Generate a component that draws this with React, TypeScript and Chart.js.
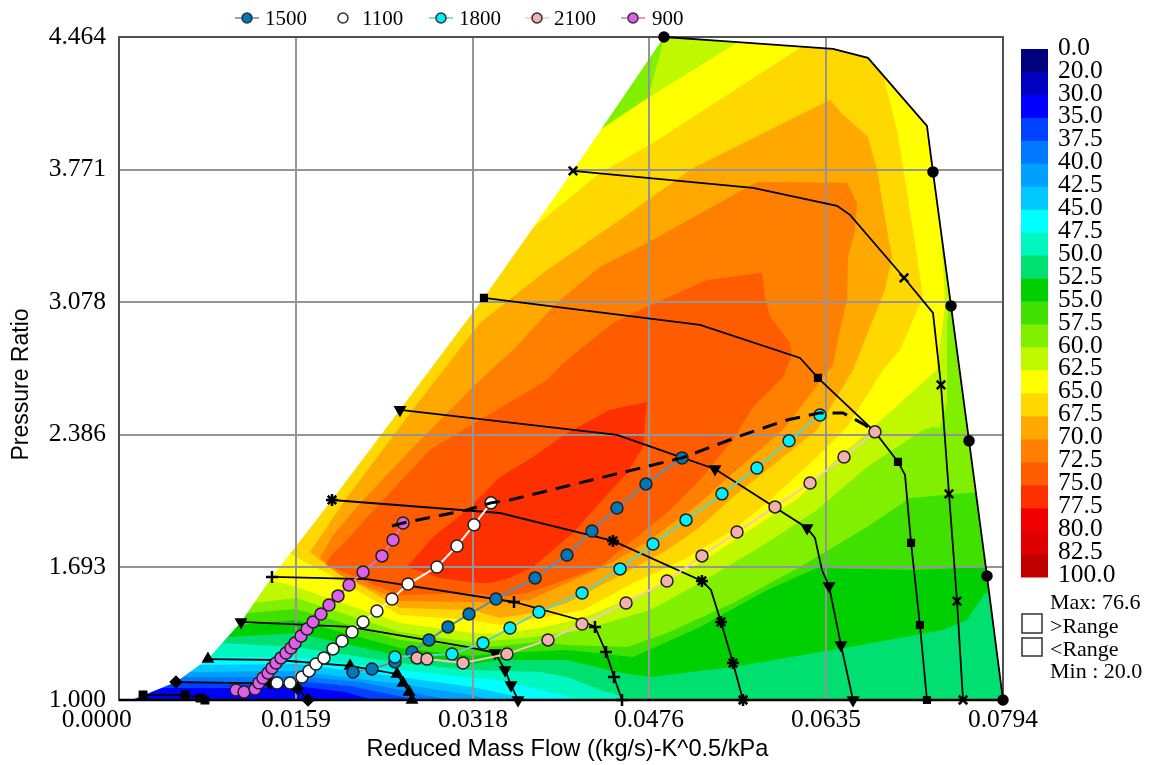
import React, { useEffect, useRef } from "react";
import { Chart, registerables } from "chart.js";

Chart.register(...registerables);

type P = number[];

const X_MAX = 0.0794;
const Y_MIN = 1.0;
const Y_MAX = 4.464;
const xTicks = [0, 0.0159, 0.0318, 0.0476, 0.0635, 0.0794];
const xTickLabels = ["0.0000       ", "0.0159", "0.0318", "0.0476", "0.0635", "0.0794"];
const yTicks = [1.0, 1.693, 2.386, 3.078, 3.771, 4.464];
const yTickLabels = ["1.000", "1.693", "2.386", "3.078", "3.771", "4.464"];
const xTitle = "Reduced Mass Flow ((kg/s)-K^0.5/kPa";
const yTitle = "Pressure Ratio";

const scaleLabels = ["0.0", "20.0", "30.0", "35.0", "37.5", "40.0", "42.5", "45.0", "47.5", "50.0", "52.5", "55.0", "57.5", "60.0", "62.5", "65.0", "67.5", "70.0", "72.5", "75.0", "77.5", "80.0", "82.5", "100.0"];
const scaleColors = ["#00007f", "#0000bf", "#0000ff", "#0040ff", "#0078ff", "#00a0ff", "#00c8ff", "#00ffff", "#00f8c0", "#00e070", "#00d000", "#40e000", "#80f000", "#c0f800", "#ffff00", "#ffd800", "#ffa800", "#ff8000", "#ff5c00", "#ff3000", "#f00000", "#e00000", "#c00000"];

// Contour regions of efficiency in (mass flow, pressure ratio), outermost first.
const region0040: P[] = [[0, 1.063], [0.00395, 1.063], [0.01204, 1.063], [0.0159, 1.073], [0.0203, 1.042], [0.02281, 1], [X_MAX, 1]];
const region0080: P[] = [[0, 1.094], [0.00503, 1.094], [0.01204, 1.089], [0.0159, 1.099], [0.02075, 1.073], [0.02677, 1], [X_MAX, 1]];
const region00a0: P[] = [[0, 1.12], [0.00575, 1.12], [0.01204, 1.12], [0.0159, 1.125], [0.02165, 1.094], [0.02524, 1.052], [0.02973, 1], [X_MAX, 1]];
const region00c8: P[] = [[0, 1.146], [0.00638, 1.146], [0.0159, 1.152], [0.02524, 1.084], [0.03171, 1.026], [0.03332, 1], [X_MAX, 1]];
const regionCyan: P[] = [[0, 1.183], [0.00701, 1.183], [0.0159, 1.188], [0.02524, 1.12], [0.03171, 1.068], [0.03422, 1.037], [0.03718, 1], [X_MAX, 1]];
const regionTeal: P[] = [[0, 1.225], [0.0079, 1.225], [0.0159, 1.225], [0.02524, 1.157], [0.03171, 1.115], [0.03422, 1.105], [0.03781, 1.052], [0.04168, 1], [X_MAX, 1]];
const regionSea: P[] = [[0, 1.298], [0.00907, 1.298], [0.0159, 1.277], [0.02524, 1.193], [0.03171, 1.157], [0.03781, 1.146], [0.04024, 1.12], [0.0432, 1.052], [0.04617, 1], [X_MAX, 1]];
const regionGreen: P[] = [[0, 1.329], [0.00997, 1.329], [0.0159, 1.35], [0.02524, 1.23], [0.03171, 1.188], [0.03422, 1.209], [0.04024, 1.209], [0.04473, 1.146], [0.04769, 1.12], [0.05515, 1.172], [0.06566, 1.277], [0.07401, 1.366], [0.07617, 1.418], [0.07778, 1.559], [X_MAX, 1.575]];
const regionGreen2: P[] = [[0, 1.392], [0.01087, 1.392], [0.0159, 1.418], [0.02524, 1.272], [0.03171, 1.23], [0.03422, 1.246], [0.04024, 1.261], [0.04617, 1.225], [0.05219, 1.382], [0.0582, 1.575], [0.06269, 1.69], [0.07132, 1.679], [0.07796, 1.695], [X_MAX, 1.706]];
const regionLime: P[] = [[0, 1.455], [0.0115, 1.455], [0.0159, 1.476], [0.02524, 1.314], [0.03171, 1.272], [0.03422, 1.282], [0.03781, 1.303], [0.04024, 1.287], [0.04563, 1.277], [0.04922, 1.35], [0.05515, 1.507], [0.06117, 1.695], [0.06718, 1.904], [0.07105, 2.056], [0.07617, 2.082], [X_MAX, 2.098]];
const regionLime2: P[] = [[0, 1.507], [0.01204, 1.507], [0.0159, 1.533], [0.02524, 1.355], [0.03171, 1.303], [0.03422, 1.314], [0.03718, 1.329], [0.04168, 1.366], [0.04769, 1.47], [0.05219, 1.611], [0.0582, 1.821], [0.06269, 1.993], [0.06718, 2.218], [0.06988, 2.322], [0.07221, 2.411], [0.07311, 2.427], [0.07374, 2.422], [0.07437, 2.552], [0.07437, 2.725], [0.07437, 2.97], [0.07464, 3.09], [X_MAX, 3.09]];
const regionYellow: P[] = [[0, 1.627], [0.01356, 1.627], [0.0159, 1.591], [0.02524, 1.402], [0.03171, 1.35], [0.03422, 1.345], [0.03781, 1.376], [0.04168, 1.429], [0.04769, 1.575], [0.05219, 1.716], [0.05668, 1.888], [0.06117, 2.061], [0.06413, 2.239], [0.06718, 2.395], [0.07015, 2.552], [0.07347, 2.725], [0.07419, 3.054], [0.07401, 3.284], [0.07356, 3.629], [0.07257, 4.0], [X_MAX, 4.0]];
const regionGold: P[] = [[0, 1.768], [0.01536, 1.768], [0.0159, 1.747], [0.01895, 1.653], [0.02524, 1.444], [0.03171, 1.418], [0.03422, 1.392], [0.03781, 1.429], [0.04168, 1.47], [0.04617, 1.611], [0.05066, 1.732], [0.05515, 1.888], [0.0582, 2.03], [0.06269, 2.27], [0.06539, 2.427], [0.06862, 2.725], [0.07015, 2.829], [0.07221, 3.106], [0.07132, 3.456], [0.06988, 3.979], [0.0688, 4.225], [0.0688, 4.464], [0.06117, 4.464], [0.06117, 4.407], [0.04742, 3.89], [0.0432, 3.754], [0.03665, 3.441], [0, 3.441]];
const regionAmber: P[] = [[0.03242, 2.97], [0.02704, 2.568], [0.0203, 2.045], [0.01716, 1.773], [0.01895, 1.69], [0.02524, 1.481], [0.03171, 1.47], [0.03422, 1.429], [0.03718, 1.455], [0.04024, 1.507], [0.04473, 1.643], [0.04922, 1.784], [0.05219, 1.904], [0.05515, 2.061], [0.0582, 2.202], [0.06269, 2.411], [0.06593, 2.725], [0.0688, 3.143], [0.06943, 3.315], [0.06898, 3.456], [0.06808, 3.77], [0.06727, 3.942], [0.06485, 4.068], [0.06386, 4.136], [0.05156, 3.78], [0.045, 3.509], [0.03844, 3.247]];
const regionOrange: P[] = [[0.03242, 2.672], [0.02704, 2.359], [0.02192, 2.045], [0.01922, 1.862], [0.01805, 1.742], [0.01985, 1.653], [0.02524, 1.517], [0.03171, 1.512], [0.03422, 1.507], [0.03692, 1.523], [0.04024, 1.611], [0.04473, 1.732], [0.04769, 1.836], [0.05219, 2.03], [0.05515, 2.186], [0.05964, 2.411], [0.06413, 2.751], [0.06476, 2.934], [0.06539, 3.09], [0.06548, 3.315], [0.06611, 3.456], [0.06629, 3.597], [0.06539, 3.702], [0.0573, 3.707], [0.04742, 3.388], [0.0432, 3.263], [0.03934, 3.075], [0.03539, 2.829]];
const regionDeepOrange: P[] = [[0.03844, 2.672], [0.03242, 2.463], [0.02793, 2.307], [0.02371, 2.045], [0.02102, 1.873], [0.01895, 1.747], [0.01859, 1.706], [0.02228, 1.617], [0.02524, 1.549], [0.03171, 1.559], [0.03422, 1.538], [0.03665, 1.559], [0.03934, 1.611], [0.0432, 1.695], [0.04617, 1.836], [0.04922, 1.977], [0.05219, 2.15], [0.05515, 2.359], [0.05695, 2.531], [0.05964, 2.688], [0.06045, 2.803], [0.06027, 2.866], [0.05847, 3.002], [0.05802, 3.106], [0.05775, 3.232], [0.05281, 3.195], [0.04742, 3.054], [0.04437, 2.97], [0.03988, 2.761]];
const regionRed: P[] = [[0.02587, 1.695], [0.02883, 1.638], [0.03216, 1.611], [0.03332, 1.611], [0.03512, 1.638], [0.03718, 1.695], [0.04078, 1.873], [0.0432, 2.03], [0.04563, 2.186], [0.04707, 2.322], [0.04742, 2.557], [0.0441, 2.516], [0.04024, 2.395], [0.03718, 2.27], [0.03422, 2.165], [0.03126, 1.993], [0.0282, 1.852]];
const wedgeLime2: P[] = [[0, 4.464], [0.05551, 4.464], [0.05551, 4.434], [0.04751, 4.146], [0.0432, 3.979], [0, 3.979]];
const wedgeLime: P[] = [[0, 4.464], [0.04895, 4.464], [0.04877, 4.413], [0.04751, 4.146], [0.0432, 3.979], [0, 3.979]];

// Map outline: everything beyond it is white.
const outsideLeft: P[] = [[0, 4.464], [0.04895, 4.464], [0.04078, 3.765], [0.03278, 3.101], [0.02524, 2.516], [0.01913, 2.045], [0.01374, 1.643], [0.01096, 1.408], [0.00799, 1.214], [0.00512, 1.094], [0.00117, 1], [0, 1]];
const outsideRight: P[] = [[0.04895, 4.464], [0.05398, 4.444], [0.06413, 4.402], [0.06727, 4.355], [0.07257, 4.0], [0.07311, 3.759], [0.07473, 3.059], [0.07635, 2.354], [0.07796, 1.648], [X_MAX, 1], [X_MAX, 4.464]];

// Constant-speed lines
const speedA: P[] = [[0.04895, 4.464], [0.05398, 4.444], [0.06413, 4.402], [0.06727, 4.355], [0.07257, 4.0], [0.07311, 3.759], [0.07473, 3.059], [0.07635, 2.354], [0.07796, 1.648], [0.0794, 1]];
const speedB: P[] = [[0.04078, 3.765], [0.05695, 3.676], [0.06449, 3.582], [0.06566, 3.535], [0.07051, 3.206], [0.07311, 3.023], [0.07383, 2.646], [0.07455, 2.077], [0.07527, 1.517], [0.07581, 1]];
const speedC: P[] = [[0.03278, 3.101], [0.05219, 2.96], [0.06117, 2.787], [0.06278, 2.683], [0.0679, 2.401], [0.06997, 2.244], [0.0706, 2.176], [0.07114, 1.821], [0.07194, 1.392], [0.07257, 1]];
const speedD: P[] = [[0.02524, 2.516], [0.04473, 2.385], [0.05039, 2.27], [0.05353, 2.207], [0.0618, 1.899], [0.06251, 1.847], [0.06314, 1.679], [0.06377, 1.596], [0.06485, 1.287], [0.06593, 1]];
const speedE: P[] = [[0.01913, 2.045], [0.03422, 1.977], [0.04437, 1.831], [0.05236, 1.622], [0.05317, 1.575], [0.05407, 1.408], [0.05515, 1.193], [0.05605, 1]];
const speedF: P[] = [[0.01374, 1.643], [0.02228, 1.632], [0.03548, 1.512], [0.04141, 1.418], [0.04275, 1.382], [0.04374, 1.251], [0.04446, 1.12], [0.04518, 1]];
const speedG: P[] = [[0.01096, 1.408], [0.02075, 1.382], [0.03126, 1.277], [0.03377, 1.246], [0.03467, 1.157], [0.03521, 1.078], [0.03584, 1]];
const speedH: P[] = [[0.00799, 1.214], [0.01419, 1.209], [0.02075, 1.178], [0.02497, 1.136], [0.02551, 1.089], [0.02605, 1.042], [0.02632, 1]];
const speedI: P[] = [[0.00512, 1.094], [0.01024, 1.089], [0.01356, 1.089], [0.01599, 1.063], [0.01698, 1]];
const speedJ: P[] = [[0.00216, 1.026], [0.00593, 1.026], [0.00728, 1.01], [0.00772, 1]];

// Operating-line series
const flow900 = [0.01051, 0.01123, 0.01222, 0.01257, 0.01293, 0.01338, 0.01374, 0.0141, 0.01455, 0.015, 0.01545, 0.01581, 0.01635, 0.01689, 0.01743, 0.01814, 0.01886, 0.01967, 0.02066, 0.02192, 0.02362, 0.02461, 0.02551];
const ratio900 = [1.052, 1.042, 1.057, 1.089, 1.115, 1.141, 1.167, 1.193, 1.22, 1.246, 1.272, 1.298, 1.334, 1.371, 1.408, 1.449, 1.496, 1.544, 1.601, 1.669, 1.753, 1.836, 1.925];
const flow1100 = [0.01419, 0.01536, 0.01644, 0.01707, 0.01769, 0.01841, 0.01922, 0.02003, 0.02093, 0.02192, 0.02317, 0.02452, 0.02596, 0.02856, 0.03036, 0.03189, 0.03341];
const ratio1100 = [1.089, 1.089, 1.12, 1.152, 1.188, 1.22, 1.267, 1.308, 1.355, 1.408, 1.465, 1.528, 1.606, 1.695, 1.805, 1.915, 2.03];
const flow1500 = [0.02102, 0.02272, 0.02479, 0.02632, 0.02784, 0.02955, 0.03144, 0.03386, 0.03737, 0.04024, 0.04248, 0.04473, 0.04733, 0.05057];
const ratio1500 = [1.146, 1.162, 1.199, 1.251, 1.314, 1.382, 1.449, 1.528, 1.638, 1.758, 1.883, 2.003, 2.129, 2.265];
const flow1800 = [0.02479, 0.02991, 0.03269, 0.03512, 0.03772, 0.04159, 0.045, 0.04796, 0.05093, 0.05416, 0.0573, 0.06018, 0.06296];
const ratio1800 = [1.225, 1.24, 1.298, 1.376, 1.46, 1.559, 1.685, 1.815, 1.941, 2.077, 2.212, 2.354, 2.489];
const flow2100 = [0.02677, 0.02766, 0.0309, 0.03485, 0.03853, 0.04159, 0.04554, 0.04922, 0.05236, 0.05551, 0.05892, 0.06207, 0.06512, 0.0679];
const ratio2100 = [1.22, 1.214, 1.193, 1.24, 1.314, 1.397, 1.507, 1.622, 1.753, 1.878, 2.009, 2.134, 2.27, 2.401];
const surgeFlow = [0.02452, 0.02551, 0.03126, 0.03341, 0.03512, 0.05057, 0.05605, 0.06, 0.06296, 0.06503, 0.06701, 0.0679];
const surgeRatio = [1.909, 1.925, 1.993, 2.03, 2.045, 2.265, 2.385, 2.463, 2.5, 2.5, 2.437, 2.401];

const topCorners: P[] = [[X_MAX, Y_MAX], [0, Y_MAX]];
const contours: [string, P[]][] = [
  ["#0000ff", [[0, Y_MIN], [X_MAX, Y_MIN], ...topCorners]],
  ...([
    ["#0040ff", region0040], ["#0078ff", region0080], ["#00a0ff", region00a0], ["#00c8ff", region00c8],
    ["#00ffff", regionCyan], ["#00f8c0", regionTeal], ["#00e070", regionSea], ["#00d000", regionGreen],
    ["#40e000", regionGreen2], ["#80f000", regionLime], ["#c0f800", regionLime2], ["#ffff00", regionYellow],
  ] as [string, P[]][]).map(([c, r]) => [c, [...r, ...topCorners]] as [string, P[]]),
  ["#ffd800", regionGold], ["#ffa800", regionAmber], ["#ff8000", regionOrange], ["#ff5c00", regionDeepOrange],
  ["#ff3000", regionRed], ["#c0f800", wedgeLime2], ["#80f000", wedgeLime],
  ["#ffffff", outsideLeft], ["#ffffff", outsideRight],
];

const speedLines: { pts: P[]; marks: number[]; style: string; rotation?: number; radius: number }[] = [
  { pts: speedA, marks: [0, 5, 6, 7, 8, 9], style: "circle", radius: 4.5 },
  { pts: speedB, marks: [0, 4, 6, 7, 8, 9], style: "crossRot", radius: 6 },
  { pts: speedC, marks: [0, 3, 5, 7, 8, 9], style: "rect", radius: 4 },
  { pts: speedD, marks: [0, 3, 4, 7, 8, 9], style: "triangle", rotation: 180, radius: 5 },
  { pts: speedE, marks: [0, 2, 3, 5, 6, 7], style: "star", radius: 6 },
  { pts: speedF, marks: [0, 2, 4, 5, 6, 7], style: "cross", radius: 6 },
  { pts: speedG, marks: [0, 3, 4, 5, 6], style: "triangle", rotation: 180, radius: 5 },
  { pts: speedH, marks: [0, 2, 3, 4, 5, 6], style: "triangle", radius: 5 },
  { pts: speedI, marks: [0, 2, 3, 4], style: "rectRot", radius: 5 },
  { pts: speedJ, marks: [0, 1, 2, 3], style: "rect", radius: 4.5 },
];

const series = [
  { name: "1500", flow: flow1500, ratio: ratio1500, fill: "#0078b8", line: "#5a8fb0", keyX: 247, textX: 265, keyLine: true },
  { name: "1100", flow: flow1100, ratio: ratio1100, fill: "#ffffff", line: "#ffffff", keyX: 343, textX: 362, keyLine: false },
  { name: "1800", flow: flow1800, ratio: ratio1800, fill: "#00f0ff", line: "#58d8c0", keyX: 441, textX: 459, keyLine: true },
  { name: "2100", flow: flow2100, ratio: ratio2100, fill: "#f4b0b0", line: "#f0c8b8", keyX: 537, textX: 554, keyLine: true },
  { name: "900", flow: flow900, ratio: ratio900, fill: "#dc60e8", line: "#e070d0", keyX: 633, textX: 652, keyLine: true },
];

const asPoints = (pts: P[]) => pts.map(([x, y]) => ({ x, y }));
const pair = (xs: number[], ys: number[]) => xs.map((x, i) => ({ x, y: ys[i] }));

// The filler only keeps a closed shape whole if its path starts at the smallest x
// and ends at the largest, so the ring is rotated and a zero-area return is added.
function closedShape(pts: P[]) {
  let lo = 0;
  let hi = 0;
  pts.forEach((p, i) => {
    if (p[0] < pts[lo][0]) lo = i;
    if (p[0] > pts[hi][0]) hi = i;
  });
  const ring = [...pts.slice(lo), ...pts.slice(0, lo)];
  return asPoints([...ring, pts[lo], pts[hi]]);
}

const SERIF = "'Liberation Serif', serif";
const SANS = "'Liberation Sans', sans-serif";

const overlay = {
  id: "overlay",
  afterDatasetDraw(chart: any, args: any) {
    if (chart.data.datasets[args.index].label !== "outline") return;
    const { ctx, chartArea: a } = chart;
    chart.scales.x.drawGrid(a);
    chart.scales.y.drawGrid(a);
    ctx.save();
    ctx.strokeStyle = "#505050";
    ctx.lineWidth = 2;
    ctx.strokeRect(a.left, a.top, a.width, a.height);
    ctx.strokeStyle = "#000000";
    ctx.lineWidth = 2.5;
    ctx.beginPath();
    ctx.moveTo(a.left, a.bottom);
    ctx.lineTo(a.right, a.bottom);
    ctx.stroke();
    ctx.restore();
  },
  afterDraw(chart: any) {
    const { ctx } = chart;
    ctx.save();
    ctx.textBaseline = "middle";
    ctx.textAlign = "left";
    ctx.fillStyle = "#000";

    // legend
    for (const s of series) {
      if (s.keyLine) {
        ctx.strokeStyle = s.line;
        ctx.lineWidth = 1.5;
        ctx.beginPath();
        ctx.moveTo(s.keyX - 12, 18);
        ctx.lineTo(s.keyX + 12, 18);
        ctx.stroke();
      }
      ctx.fillStyle = s.fill;
      ctx.strokeStyle = "#303030";
      ctx.lineWidth = 1.5;
      ctx.beginPath();
      ctx.arc(s.keyX, 18, 5, 0, Math.PI * 2);
      ctx.fill();
      ctx.stroke();
      ctx.fillStyle = "#000";
      ctx.font = `21px ${SERIF}`;
      ctx.fillText(s.name, s.textX, 19);
    }

    // colour scale
    const barTop = 49;
    const cell = 528 / scaleColors.length;
    scaleColors.forEach((c, i) => {
      ctx.fillStyle = c;
      ctx.fillRect(1021, barTop + i * cell, 27, cell + 0.5);
    });
    ctx.fillStyle = "#000";
    ctx.font = `25.5px ${SERIF}`;
    scaleLabels.forEach((t, i) => ctx.fillText(t, 1058, 48 + (i * 527) / (scaleLabels.length - 1)));

    ctx.font = `22px ${SERIF}`;
    ctx.fillText("Max: 76.6", 1050, 603);
    ctx.fillText(">Range", 1050, 627);
    ctx.fillText("<Range", 1050, 650);
    ctx.fillText("Min : 20.0", 1050, 672);
    ctx.strokeStyle = "#303030";
    ctx.lineWidth = 1.5;
    ctx.strokeRect(1022, 614, 20, 19);
    ctx.strokeRect(1022, 638, 20, 18);

    // axis titles
    ctx.textAlign = "center";
    ctx.font = `23.6px ${SANS}`;
    ctx.fillText(xTitle, 567.5, 749);
    ctx.translate(22, 384.5);
    ctx.rotate(-Math.PI / 2);
    ctx.font = `23px ${SANS}`;
    ctx.fillText(yTitle, 0, 0);
    ctx.restore();
  },
};

export default function App() {
  const ref = useRef<HTMLCanvasElement>(null);
  useEffect(() => {
    const datasets: any[] = [];
    let order = 1000;
    contours.forEach(([color, pts], i) => {
      datasets.push({
        label: i === contours.length - 1 ? "outline" : `contour${i}`,
        data: closedShape(pts),
        showLine: true,
        fill: "shape",
        backgroundColor: color,
        borderWidth: 0,
        borderColor: "transparent",
        pointRadius: 0,
        tension: 0,
        order: order--,
      });
    });
    speedLines.forEach((l, i) => {
      datasets.push({
        label: `speed${i}`,
        data: asPoints(l.pts),
        showLine: true,
        fill: false,
        borderColor: "#000",
        borderWidth: 1.8,
        backgroundColor: "#000",
        pointStyle: l.style,
        pointRotation: l.rotation ?? 0,
        pointRadius: (c: any) => (l.marks.includes(c.dataIndex) ? l.radius : 0),
        pointBackgroundColor: "#000",
        pointBorderColor: "#000",
        pointBorderWidth: 2.5,
        tension: 0,
        clip: false,
        order: order--,
      });
    });
    series.forEach((s) => {
      datasets.push({
        label: s.name,
        data: pair(s.flow, s.ratio),
        showLine: true,
        fill: false,
        borderColor: s.line,
        borderWidth: 2,
        pointStyle: "circle",
        pointRadius: 6,
        pointBackgroundColor: s.fill,
        pointBorderColor: "#202020",
        pointBorderWidth: 1.5,
        tension: 0,
        clip: false,
        order: order--,
      });
    });
    datasets.push({
      label: "surge",
      data: pair(surgeFlow, surgeRatio),
      showLine: true,
      fill: false,
      borderColor: "#000",
      borderWidth: 3,
      borderDash: [15, 9],
      pointRadius: 0,
      tension: 0,
      clip: false,
      order: order--,
    });

    const chart = new Chart(ref.current!, {
      type: "scatter",
      data: { datasets },
      plugins: [overlay as any],
      options: {
        animation: false,
        responsive: false,
        events: [],
        layout: { padding: { top: 37, right: 149, left: 0, bottom: 0 } },
        plugins: { legend: { display: false }, tooltip: { enabled: false }, title: { display: false } },
        scales: {
          x: {
            type: "linear",
            min: 0,
            max: X_MAX,
            afterFit: (s: any) => { s.height = 65; },
            afterBuildTicks: (s: any) => { s.ticks = xTicks.map((value) => ({ value })); },
            grid: { color: "#959595", lineWidth: 2, drawTicks: false },
            border: { display: false },
            ticks: {
              autoSkip: false,
              maxRotation: 0,
              padding: 5,
              color: "#000",
              font: { family: "Liberation Serif", size: 25.5 },
              callback: (_v: any, i: number) => xTickLabels[i],
            },
          },
          y: {
            type: "linear",
            min: Y_MIN,
            max: Y_MAX,
            afterFit: (s: any) => { s.width = 119; },
            afterBuildTicks: (s: any) => { s.ticks = yTicks.map((value) => ({ value })); },
            grid: { color: "#959595", lineWidth: 2, drawTicks: false },
            border: { display: false },
            ticks: {
              autoSkip: false,
              padding: 13,
              color: "#000",
              font: { family: "Liberation Serif", size: 25.5 },
              callback: (_v: any, i: number) => yTickLabels[i],
            },
          },
        },
      } as any,
    });
    return () => chart.destroy();
  }, []);

  return (
    <div style={{ position: "fixed", left: 0, top: 0, width: 1152, height: 765, background: "#fff" }}>
      <canvas ref={ref} width={1152} height={765} style={{ display: "block", filter: "blur(0.5px)" }} />
    </div>
  );
}
